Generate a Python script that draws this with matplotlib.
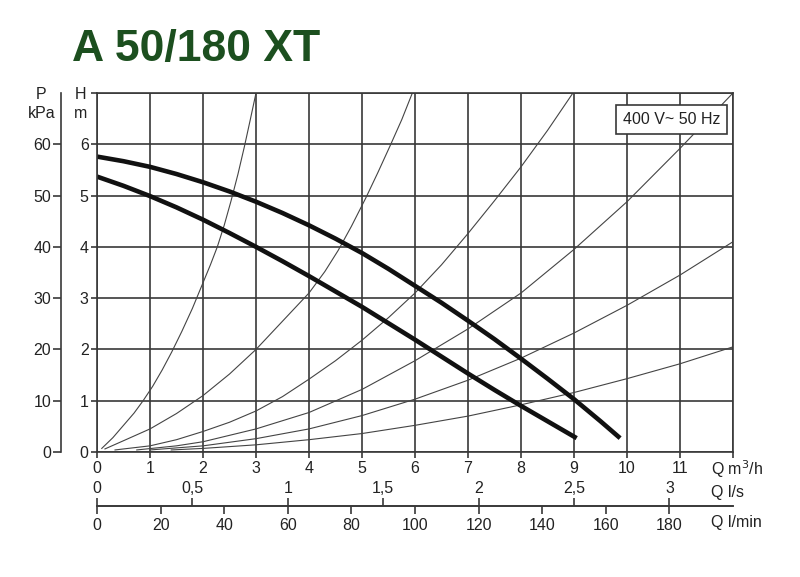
import numpy as np
import matplotlib
matplotlib.use('Agg')
import matplotlib.pyplot as plt

plt.rcParams['font.family'] = ['Liberation Sans', 'DejaVu Sans']

# pump curves, Q in m3/h, H in m
max_q = [0, 0.5, 1, 1.5, 2, 2.5, 3, 3.5, 4, 4.5, 5, 5.5, 6, 6.5, 7, 7.5, 8, 8.5, 9, 9.5, 9.87]
max_h = [5.76, 5.67, 5.56, 5.42, 5.26, 5.08, 4.88, 4.66, 4.42, 4.16, 3.88, 3.57, 3.24, 2.91, 2.56, 2.20, 1.82, 1.43, 1.03, 0.60, 0.27]
min_q = [0, 0.5, 1, 1.5, 2, 2.5, 3, 3.5, 4, 4.5, 5, 5.5, 6, 6.5, 7, 7.5, 8, 8.5, 9.05]
min_h = [5.37, 5.19, 4.99, 4.77, 4.53, 4.27, 4.0, 3.72, 3.43, 3.13, 2.83, 2.51, 2.19, 1.86, 1.53, 1.21, 0.9, 0.6, 0.27]

# system (resistance) curves
res_a_q = [0.09, 0.3, 0.5, 0.7, 0.87, 1.05, 1.23, 1.41, 1.6, 1.8, 1.98, 2.14, 2.27, 2.4, 2.53, 2.66, 2.78, 2.89, 3.0]
res_a_h = [0.07, 0.28, 0.52, 0.76, 1.0, 1.28, 1.6, 1.95, 2.35, 2.8, 3.25, 3.65, 4.0, 4.42, 4.9, 5.42, 5.95, 6.47, 7.0]
res_b_q = [0.15, 0.5, 1, 1.5, 2, 2.5, 3, 3.5, 4, 4.3, 4.55, 4.8, 5.07, 5.3, 5.53, 5.75, 5.95]
res_b_h = [0.06, 0.22, 0.45, 0.75, 1.1, 1.52, 2.0, 2.55, 3.1, 3.52, 3.93, 4.4, 4.95, 5.45, 5.97, 6.48, 7.0]
res_c_q = [0.34, 1, 1.5, 2, 2.5, 3, 3.5, 4, 4.5, 5, 5.5, 6, 6.5, 7, 7.5, 8, 8.5, 8.98]
res_c_h = [0.04, 0.12, 0.24, 0.4, 0.58, 0.8, 1.08, 1.42, 1.78, 2.18, 2.62, 3.1, 3.65, 4.26, 4.9, 5.56, 6.27, 7.0]
res_d_q = [0.75, 1.5, 2, 3, 4, 5, 6, 7, 8, 9, 10, 11, 12]
res_d_h = [0.04, 0.12, 0.2, 0.45, 0.77, 1.22, 1.78, 2.4, 3.1, 3.95, 4.88, 5.92, 7.0]
res_e_q = [1.0, 2, 3, 4, 5, 6, 7, 8, 9, 10, 11, 12]
res_e_h = [0.04, 0.12, 0.26, 0.45, 0.71, 1.03, 1.4, 1.83, 2.32, 2.86, 3.45, 4.1]
res_f_q = [1.4, 2, 3, 4, 5, 6, 7, 8, 9, 10, 11, 12]
res_f_h = [0.04, 0.07, 0.14, 0.24, 0.36, 0.52, 0.7, 0.92, 1.16, 1.43, 1.72, 2.05]

q_ticks = list(range(13))
q_labels = [str(v) for v in range(12)] + ['']
h_ticks = list(range(8))
h_labels = [str(v) for v in range(7)] + ['']
p_ticks = [0, 10, 20, 30, 40, 50, 60]
ls_ticks = [0, 0.5, 1, 1.5, 2, 2.5, 3]
ls_labels = ['0', '0,5', '1', '1,5', '2', '2,5', '3']
lmin_ticks = [0, 20, 40, 60, 80, 100, 120, 140, 160, 180]

W, H = 800, 577
grid_c = '#383838'
txt_c = '#222'
fs = 11.5

fig = plt.figure(figsize=(8, 5.77), dpi=100)
ax = fig.add_axes([97 / W, 1 - 452 / H, 636 / W, 359 / H])
ax.set_xlim(0, 12)
ax.set_ylim(0, 7)

ax.set_xticks(q_ticks)
ax.set_xticklabels(q_labels)
ax.set_yticks(h_ticks)
ax.set_yticklabels(h_labels)
ax.grid(True, color=grid_c, lw=1.2)
ax.set_axisbelow(True)
for s in ax.spines.values():
    s.set_color(grid_c)
    s.set_linewidth(1.2)
ax.tick_params(axis='both', color=grid_c, width=1.2, length=4, labelsize=fs, labelcolor=txt_c)
ax.tick_params(axis='x', pad=2.5)
ax.tick_params(axis='y', pad=2)

for qs, hs in [(res_a_q, res_a_h), (res_b_q, res_b_h), (res_c_q, res_c_h),
               (res_d_q, res_d_h), (res_e_q, res_e_h), (res_f_q, res_f_h)]:
    ax.plot(qs, hs, color='#444', lw=0.8)

ax.plot(max_q, max_h, color='#111', lw=3.3, solid_capstyle='butt', solid_joinstyle='round')
ax.plot(min_q, min_h, color='#111', lw=3.3, solid_capstyle='butt', solid_joinstyle='round')

# pressure axis
pax = ax.secondary_yaxis((61 - 97) / 636, functions=(lambda h: h * 10, lambda p: p / 10))
pax.set_yticks(p_ticks)
pax.spines['left'].set_color(grid_c)
pax.spines['left'].set_linewidth(1.2)
pax.tick_params(color=grid_c, width=1.2, length=6, labelsize=fs, pad=1, labelcolor=txt_c)

# flow axes below
loc = -(505.7 - 452) / 359
lsax = ax.secondary_xaxis(loc, functions=(lambda q: q / 3.6, lambda v: v * 3.6))
lsax.set_alignment('top')
lsax.set_xticks(ls_ticks)
lsax.set_xticklabels(ls_labels)
lsax.tick_params(color=grid_c, width=1.2, length=6, labelsize=fs, pad=1, labelcolor=txt_c)
for s in lsax.spines.values():
    s.set_color(grid_c)
    s.set_linewidth(1.2)

lmax = ax.secondary_xaxis(loc, functions=(lambda q: q * 1000 / 60, lambda v: v * 60 / 1000))
lmax.set_xticks(lmin_ticks)
lmax.tick_params(color=grid_c, width=1.2, length=6, labelsize=fs, pad=3, labelcolor=txt_c)
for s in lmax.spines.values():
    s.set_color(grid_c)
    s.set_linewidth(1.2)


def ftext(x, y, s, **kw):
    fig.text(x / W, 1 - y / H, s, **kw)


ftext(41, 95, 'P', ha='center', va='center', fontsize=fs, color=txt_c)
ftext(42, 113, 'kPa', ha='center', va='center', fontsize=fs, color=txt_c)
ftext(81, 95, 'H', ha='center', va='center', fontsize=fs, color=txt_c)
ftext(81, 113, 'm', ha='center', va='center', fontsize=fs, color=txt_c)
ftext(711, 469, 'Q m$^3$/h', ha='left', va='center', fontsize=fs, color=txt_c)
ftext(711, 492, 'Q l/s', ha='left', va='center', fontsize=fs, color=txt_c)
ftext(711, 523, 'Q l/min', ha='left', va='center', fontsize=fs, color=txt_c)

ftext(72, 61.5, 'A 50/180 XT', ha='left', va='baseline', fontsize=32,
      fontweight='bold', color='#1c4f1f')

ax.text((671.5 - 97) / 636, (452 - 119.5) / 359, '400 V~ 50 Hz', transform=ax.transAxes,
        ha='center', va='center', fontsize=fs, color=txt_c, zorder=5,
        bbox=dict(boxstyle='square,pad=0.42', fc='white', ec=grid_c, lw=1.2))

fig.savefig('out.png', dpi=100, facecolor='white')
